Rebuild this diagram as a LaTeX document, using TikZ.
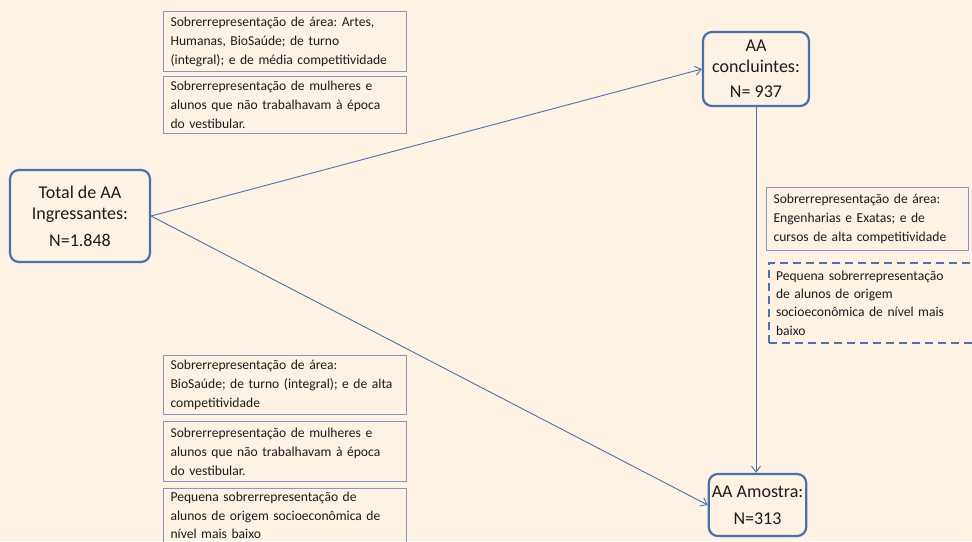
\documentclass[tikz,border=0pt]{standalone}
\usepackage{fontspec}
\setmainfont{Carlito}
\frenchspacing
\usetikzlibrary{arrows.meta}
\definecolor{bg}{HTML}{FDF2E4}
\definecolor{mainblue}{HTML}{4A70A8}
\definecolor{boxline}{HTML}{8798C0}
\definecolor{arrowblue}{HTML}{4C73B0}
\definecolor{txt}{HTML}{1C1C1C}
\tikzset{
  mainbox/.style={draw=mainblue, line width=2.2pt, rounded corners=9pt, fill=bg,
    align=center, text=txt, font=\fontsize{18}{21}\selectfont, inner sep=3pt},
  infobox/.style={draw=boxline, line width=1.1pt, anchor=north west, text=txt,
    align=left, inner xsep=7pt, inner ysep=3pt, font=\fontsize{13.6}{19}\selectfont},
  dashbox/.style={infobox, draw=arrowblue, line width=2pt, dash pattern=on 8pt off 5pt,
    font=\fontsize{13.6}{18.4}\selectfont},
  conn/.style={draw=arrowblue, line width=0.9pt, -{Straight Barb[length=6pt,width=9pt]}}
}
\begin{document}
\begin{tikzpicture}[x=1pt,y=-1pt]
\fill[bg] (0,0) rectangle (972,541);
\useasboundingbox (0,0) rectangle (972,541);

\node[mainbox, minimum width=140pt, minimum height=92pt] (total) at (80,216)
  {Total de AA\\Ingressantes:\\[6pt]N=1.848};
\node[mainbox, minimum width=106pt, minimum height=74pt] (concl) at (756,69)
  {AA\\concluintes:\\[4pt]N= 937};
\node[mainbox, minimum width=97pt, minimum height=62pt] (amostra) at (757.5,505)
  {AA Amostra:\\[6pt]N=313};

\node[infobox, text width=229pt, minimum height=60pt] (t1) at (163,11)
  {Sobrerrepresentação de área: Artes,\\Humanas, BioSaúde; de turno\\(integral); e de média competitividade};
\node[infobox, text width=229pt, minimum height=57pt] (t2) at (163,76)
  {Sobrerrepresentação de mulheres e\\alunos que não trabalhavam à época\\do vestibular.};

\node[infobox, text width=188pt, minimum height=63pt] (r1) at (766,187)
  {Sobrerrepresentação de área:\\Engenharias e Exatas; e de\\cursos de alta competitividade};
\node[dashbox, text width=196pt, minimum height=80pt] (r2) at (768,262)
  {Pequena sobrerrepresentação\\de alunos de origem\\socioeconômica de nível mais\\baixo};

\node[infobox, text width=229pt, minimum height=59pt] (b1) at (163,355)
  {Sobrerrepresentação de área:\\BioSaúde; de turno (integral); e de alta\\competitividade};
\node[infobox, text width=229pt, minimum height=60pt] (b2) at (163,421)
  {Sobrerrepresentação de mulheres e\\alunos que não trabalhavam à época\\do vestibular.};
\node[infobox, text width=229pt, minimum height=54pt,
  font=\fontsize{13.6}{18.4}\selectfont] (b3) at (163,488)
  {Pequena sobrerrepresentação de\\alunos de origem socioeconômica de\\nível mais baixo};
\draw[draw=boxline, line width=1.1pt] (b3.south west) -- ++(0,10) (b3.south east) -- ++(0,10);

\draw[conn] (total.east) -- (concl.west);
\draw[conn] (total.east) -- (amostra.west);
\draw[conn] (concl.south) -- (concl.south |- amostra.north);
\end{tikzpicture}
\end{document}
